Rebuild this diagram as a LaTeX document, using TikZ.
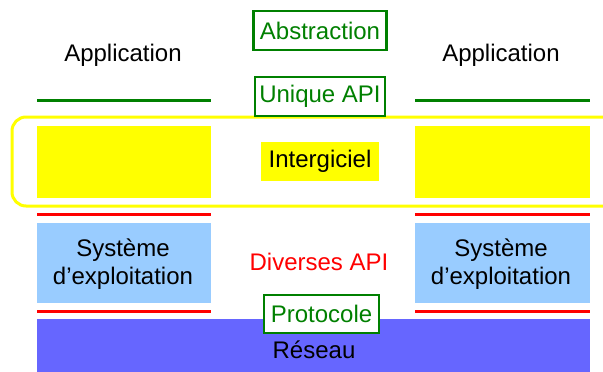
\documentclass[tikz,border=0pt]{standalone}
\usepackage{fontspec}
\setmainfont{Liberation Sans}
\definecolor{dgreen}{HTML}{008000}
\definecolor{lblue}{HTML}{99CCFF}
\definecolor{netblue}{HTML}{6666FF}
\definecolor{yel}{HTML}{FFFF00}
\definecolor{red}{HTML}{FF0000}
\begin{document}
\begin{tikzpicture}[x=1pt,y=-1pt,
  lbl/.style={font=\fontsize{24}{27.5}\selectfont, inner sep=0pt, align=center},
  gbox/.style={lbl, draw=dgreen, line width=2.5pt, text=dgreen, fill=white, anchor=center},
  gline/.style={draw=dgreen, line width=3pt},
  rline/.style={draw=red, line width=3pt},
  ybox/.style={fill=yel, draw=none},
  osbox/.style={fill=lblue, draw=none}]
\useasboundingbox (0,0) rectangle (603,372);
\clip (0,0) rectangle (603,372);
% network
\fill[netblue] (37,319) rectangle (590,372);
\node[lbl] (reseau) at (314,350) {Réseau};
% yellow outline
\draw[yel, line width=3pt, rounded corners=14pt] (12,117) rectangle (620,206);
% yellow boxes
\fill[ybox] (37,126) rectangle (211,198);
\fill[ybox] (415,126) rectangle (590,198);
\node[lbl, fill=yel, minimum width=118pt, minimum height=39pt] (inter) at (320,161.5) {Intergiciel};
% green lines
\draw[gline] (37,100) -- (211,100);
\draw[gline] (415,100) -- (590,100);
% red lines
\draw[rline] (37,214) -- (211,214);
\draw[rline] (415,214) -- (590,214);
\draw[rline] (37,311) -- (211,311);
\draw[rline] (415,311) -- (590,311);
% OS boxes
\fill[osbox] (37,223) rectangle (211,303);
\fill[osbox] (415,223) rectangle (590,303);
\node[lbl] (osl) at (123,264) {Système\\d’exploitation};
\node[lbl] (osr) at (501,264) {Système\\d’exploitation};
% applications
\node[lbl] (appl) at (123,55) {Application};
\node[lbl] (appr) at (501,55) {Application};
% green boxes
\node[gbox, minimum width=133pt, minimum height=39pt] (abs) at (320,30.5) {Abstraction};
\node[gbox, minimum width=130pt, minimum height=39pt] (uapi) at (320,96.5) {Unique API};
\node[gbox, minimum width=115pt, minimum height=38pt] (proto) at (321.5,314) {Protocole};
% diverses
\node[lbl, text=red] (div) at (319,262) {Diverses API};
\end{tikzpicture}
\end{document}
